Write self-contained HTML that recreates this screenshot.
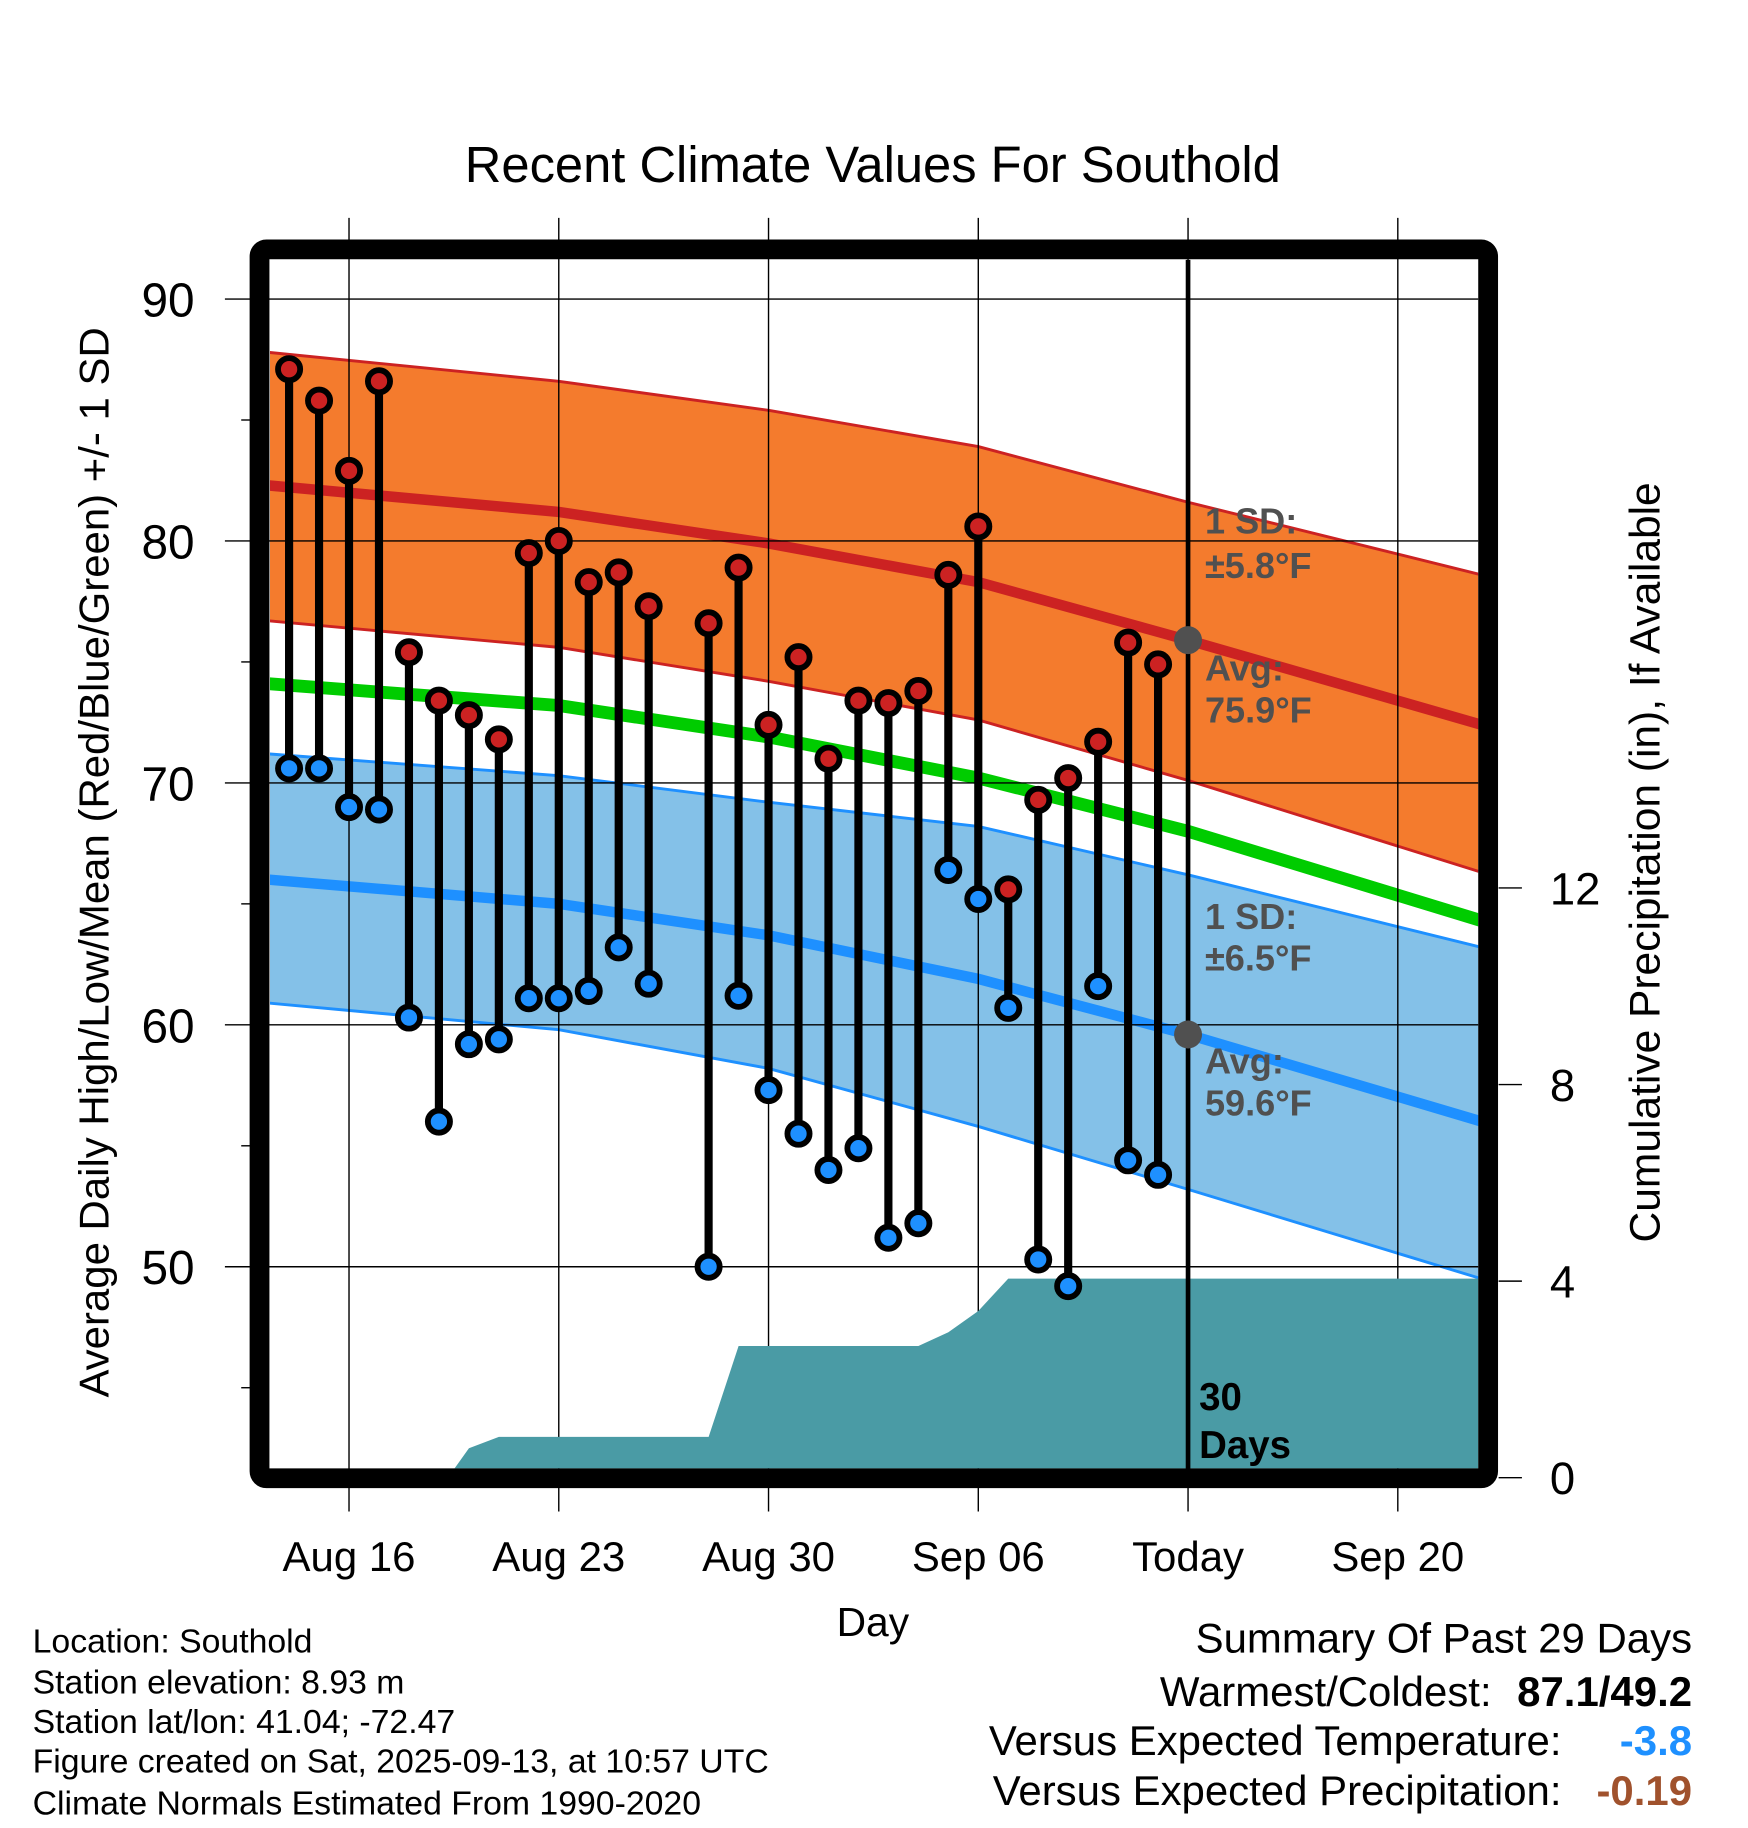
<!DOCTYPE html>
<html><head><meta charset="utf-8"><style>
html,body{margin:0;padding:0;background:#fff}
svg{display:block}
text{font-family:"Liberation Sans",sans-serif}
</style></head><body>
<svg id="chart" width="1748" height="1828" viewBox="0 0 1500 1568.6" preserveAspectRatio="none" xmlns="http://www.w3.org/2000/svg">
<defs><clipPath id="plotclip"><rect x="231.7" y="223" width="1036.8" height="1037"/></clipPath></defs>
<rect width="1500" height="1568.6" fill="#fff"/>
<text x="749" y="156" font-size="43.5" text-anchor="middle">Recent Climate Values For Southold</text>
<g id="fills" clip-path="url(#plotclip)"></g>
<g id="grid"></g>
<g id="precip" clip-path="url(#plotclip)"></g>
<g id="points" clip-path="url(#plotclip)"></g>
<g id="overlay"></g>
<rect x="222.7" y="214" width="1054.3" height="1054.5" rx="6" fill="none" stroke="#000" stroke-width="17"/>
<g id="axes"></g>
<text transform="translate(93,740) rotate(-90)" font-size="36" text-anchor="middle">Average Daily High/Low/Mean (Red/Blue/Green) +/- 1 SD</text>
<text transform="translate(1424,740) rotate(-90)" font-size="36.5" text-anchor="middle">Cumulative Precipitation (in), If Available</text>
<text x="749" y="1404" font-size="35" text-anchor="middle">Day</text>
<g font-size="29">
<text x="28" y="1418">Location: Southold</text>
<text x="28" y="1453">Station elevation: 8.93 m</text>
<text x="28" y="1487">Station lat/lon: 41.04; -72.47</text>
<text x="28" y="1521">Figure created on Sat, 2025-09-13, at 10:57 UTC</text>
<text x="28" y="1557">Climate Normals Estimated From 1990-2020</text>
</g>
<g font-size="36">
<text x="1452" y="1418" text-anchor="end">Summary Of Past 29 Days</text>
<text x="1280" y="1464" text-anchor="end">Warmest/Coldest:</text>
<text x="1452" y="1464" text-anchor="end" font-weight="bold">87.1/49.2</text>
<text x="1340" y="1506" text-anchor="end">Versus Expected Temperature:</text>
<text x="1452" y="1506" text-anchor="end" font-weight="bold" fill="#1e90ff">-3.8</text>
<text x="1340" y="1549" text-anchor="end">Versus Expected Precipitation:</text>
<text x="1452" y="1549" text-anchor="end" font-weight="bold" fill="#a0522d">-0.19</text>
</g>
</svg>
<script>
// ---- data ----
const obsDays = [-2,-1,0,1,2,3,4,5,6,7,8,9,10,12,13,14,15,16,17,18,19,20,21,22,23,24,25,26,27];
const highs = [87.1,85.8,82.9,86.6,75.4,73.4,72.8,71.8,79.5,80.0,78.3,78.7,77.3,76.6,78.9,72.4,75.2,71.0,73.4,73.3,73.8,78.6,80.6,65.6,69.3,70.2,71.7,75.8,74.9];
const lows = [70.6,70.6,69.0,68.9,60.3,56.0,59.2,59.4,61.1,61.1,61.4,63.2,61.7,50.0,61.2,57.3,55.5,54.0,54.9,51.2,51.8,66.4,65.2,60.7,50.3,49.2,61.6,54.4,53.8];
const normDays = [-2.7,7,14,21,28,37.8];
const highUpper = [87.8,86.6,85.4,83.9,81.6,78.6];
const highNormal = [82.3,81.2,79.9,78.3,75.9,72.4];
const highLower = [76.7,75.6,74.2,72.6,70.1,66.3];
const meanNormal = [74.1,73.2,71.9,70.2,68.0,64.3];
const lowUpper = [71.2,70.3,69.2,68.2,66.2,63.2];
const lowNormal = [66.0,65.0,63.7,61.9,59.6,56.0];
const lowLower = [60.9,59.8,58.2,55.8,53.2,49.5];
const precipDays = [-2.7,3.3,4,5,12,13,19,20,21,22,37.8];
const precipCum = [0,0,0.6,0.83,0.83,2.68,2.68,2.96,3.39,4.05,4.05];
const yTicks = [50,60,70,80,90];
const yMinor = [45,55,65,75,85];
const pTicks = [0,4,8,12];
const xTickDays = [0,7,14,21,28,35];
const xTickLabels = ["Aug 16","Aug 23","Aug 30","Sep 06","Today","Sep 20"];
const todayDay = 28;
const todayHigh = 75.9, todayLow = 59.6;

// ---- scales ----
const X = d => 299.5 + d*25.714;
const Y = t => 256.6 + (90 - t)*20.76;
const YP = p => 1268 - p*42.17;
const NS = "http://www.w3.org/2000/svg";
function mk(tag, parent, attrs){const e=document.createElementNS(NS,tag);for(const k in attrs)e.setAttribute(k,attrs[k]);parent.appendChild(e);return e;}
const pts = (ds, vs, f) => ds.map((d,i)=>X(d).toFixed(1)+","+f(vs[i]).toFixed(1));

const fills = document.getElementById('fills');
let e;
e = mk('polygon', fills, {points: pts(normDays,highUpper,Y).concat(pts(normDays,highLower,Y).reverse()).join(' '), fill:'#f47b2d'});


e = mk('polygon', fills, {points: pts(normDays,lowUpper,Y).concat(pts(normDays,lowLower,Y).reverse()).join(' '), fill:'#84c1e8'});


[[highUpper,'#cc2222',2.5,'high-upper-line'],[highLower,'#cc2222',2.5,'high-lower-line'],[lowUpper,'#1e90ff',2.5,'low-upper-line'],[lowLower,'#1e90ff',2.5,'low-lower-line'],[highNormal,'#cc2222',9,'high-normal-line'],[meanNormal,'#00cc00',11,'mean-normal-line'],[lowNormal,'#1e90ff',9,'low-normal-line']].forEach(s=>{
  const l = mk('polyline', fills, {points: pts(normDays,s[0],Y).join(' '), fill:'none', stroke:s[1], 'stroke-width':s[2]});
  
  
});

const grid = document.getElementById('grid');
yTicks.forEach(t=>{
  const g = mk('line', grid, {x1:193, x2:1268.5, y1:Y(t), y2:Y(t), stroke:'#000', 'stroke-width':1.2});
  
  
});
xTickDays.forEach(d=>{
  const g = mk('line', grid, {x1:X(d), x2:X(d), y1:187, y2:1297, stroke:'#000', 'stroke-width':1.2});
  
  
});

const pr = document.getElementById('precip');
const pp = pts(precipDays,precipCum,YP);
e = mk('polygon', pr, {points: [X(precipDays[0]).toFixed(1)+",1270"].concat(pp).concat([X(precipDays[precipDays.length-1]).toFixed(1)+",1270"]).join(' '), fill:'#4a9ba5'});



const P = document.getElementById('points');
obsDays.forEach((d,i)=>{
  const x = X(d);
  const s = mk('line', P, {x1:x, x2:x, y1:Y(highs[i]), y2:Y(lows[i]), stroke:'#000', 'stroke-width':7});
  
  
});
obsDays.forEach((d,i)=>{
  const x = X(d);
  const h = mk('circle', P, {cx:x, cy:Y(highs[i]), r:9.5, fill:'#cc2222', stroke:'#000', 'stroke-width':5});
  
  
  const l = mk('circle', P, {cx:x, cy:Y(lows[i]), r:9.5, fill:'#1e90ff', stroke:'#000', 'stroke-width':5});
  
  
});

const O = document.getElementById('overlay');
e = mk('line', O, {x1:X(todayDay), x2:X(todayDay), y1:223, y2:1262, stroke:'#000', 'stroke-width':4});


e = mk('circle', O, {cx:X(todayDay), cy:Y(todayHigh), r:12, fill:'#505050'});


e = mk('circle', O, {cx:X(todayDay), cy:Y(todayLow), r:12, fill:'#505050'});


const ann = [["1 SD:",458,'high-sd-label'],["\u00b15.8\u00b0F",496,'high-sd-value'],["Avg:",584,'high-avg-label'],["75.9\u00b0F",620,'high-avg-value'],["1 SD:",797,'low-sd-label'],["\u00b16.5\u00b0F",833,'low-sd-value'],["Avg:",921,'low-avg-label'],["59.6\u00b0F",957,'low-avg-value']];
ann.forEach(a=>{
  const t = mk('text', O, {x:1034, y:a[1], 'font-size':31, 'font-weight':'bold', fill:'#505050'});
  t.textContent = a[0];
  
  
});
[["30",1210],["Days",1251]].forEach(a=>{
  const t = mk('text', O, {x:1029, y:a[1], 'font-size':33, 'font-weight':'bold', fill:'#000'});
  t.textContent = a[0];
  
  
});

const A = document.getElementById('axes');
yTicks.forEach(t=>{
  const l = mk('text', A, {x:167, y:Y(t)+15, 'font-size':41, 'text-anchor':'end'});
  l.textContent = t;
  
  
});
yMinor.forEach(t=>{
  const m = mk('line', A, {x1:207, x2:215, y1:Y(t), y2:Y(t), stroke:'#000', 'stroke-width':1.2});
  
  
});
pTicks.forEach(p=>{
  const m = mk('line', A, {x1:1286, x2:1306, y1:YP(p), y2:YP(p), stroke:'#000', 'stroke-width':1.2});
  
  
  const l = mk('text', A, {x:1330, y:YP(p)+14, 'font-size':39});
  l.textContent = p;
  
  
});
xTickDays.forEach((d,i)=>{
  const l = mk('text', A, {x:X(d), y:1348, 'font-size':36, 'text-anchor':'middle'});
  l.textContent = xTickLabels[i];
  
  
});
</script>
</body></html>
